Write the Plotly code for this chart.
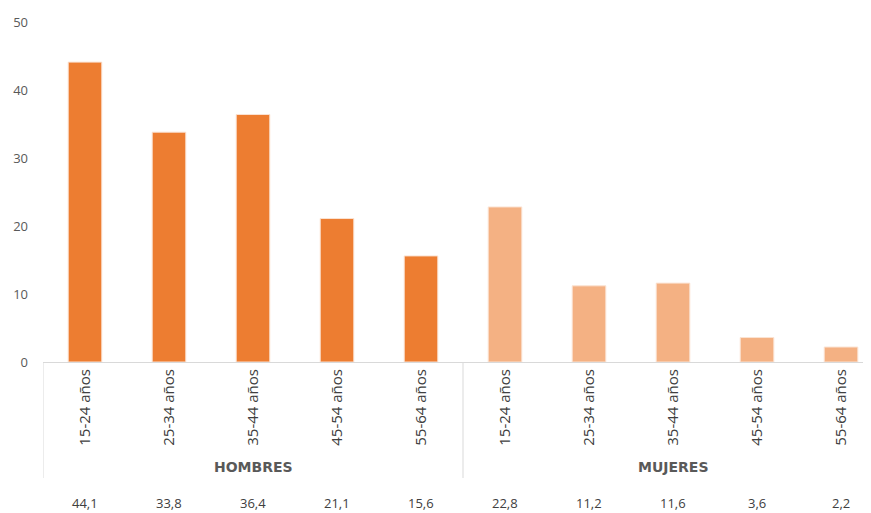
import plotly.graph_objects as go

# datos
grupos = ["HOMBRES", "MUJERES"]
edades = ["15-24 años", "25-34 años", "35-44 años", "45-54 años", "55-64 años"]
hombres = [44.1, 33.8, 36.4, 21.1, 15.6]
mujeres = [22.8, 11.2, 11.6, 3.6, 2.2]

valores = hombres + mujeres
etiquetas = edades + edades
pos = list(range(len(valores)))
colores = ["#ED7D31"] * len(hombres) + ["#F4B183"] * len(mujeres)

fig = go.Figure()
fig.add_trace(go.Bar(
    x=pos, y=valores, width=0.4,
    marker=dict(color=colores, line=dict(color="#FBE3D3", width=1)),
    hoverinfo="y", showlegend=False,
))

plot_h = 340

# lineas divisorias de grupos
for xv in [-0.5, 4.5]:
    fig.add_shape(type="line", xref="x", yref="paper",
                  x0=xv, x1=xv, y0=0, y1=-(478 - 362) / plot_h,
                  line=dict(color="#D9D9D9", width=1))

# nombres de grupo
for i, g in enumerate(grupos):
    fig.add_annotation(x=2 + 5 * i, y=-(467 - 362) / plot_h, xref="x", yref="paper",
                       text="<b>" + g + "</b>", showarrow=False, yanchor="middle",
                       font=dict(size=14, color="#595959", family="DejaVu Sans"))

# fila de valores
for p, v in zip(pos, valores):
    fig.add_annotation(x=p, y=-(503 - 362) / plot_h, xref="x", yref="paper",
                       text=f"{v:.1f}".replace(".", ","), showarrow=False, yanchor="middle",
                       font=dict(size=13, color="#404040"))

# la pagina tiene 8px de margen en el body
fig.update_layout(
    width=863, height=505,
    margin=dict(l=35, r=1, t=14, b=151),
    plot_bgcolor="white", paper_bgcolor="white",
    font=dict(family="Open Sans, Noto Sans, sans-serif", color="#595959"),
    bargap=0.6,
)
# la ultima categoria queda cortada por el borde derecho
fig.update_xaxes(
    range=[-0.5, 9.345], tickvals=pos, ticktext=etiquetas, tickangle=-90,
    tickfont=dict(size=15, color="#404040"), automargin=False,
    showline=True, linecolor="#D9D9D9", linewidth=1,
    showgrid=False, zeroline=False, ticks="",
)
fig.update_yaxes(
    range=[0, 50], dtick=10, showgrid=False, zeroline=False, showline=False,
    tickfont=dict(size=13, color="#595959"), ticks="", automargin=False,
    ticklabelstandoff=14,
)

fig.write_html("out.html")
